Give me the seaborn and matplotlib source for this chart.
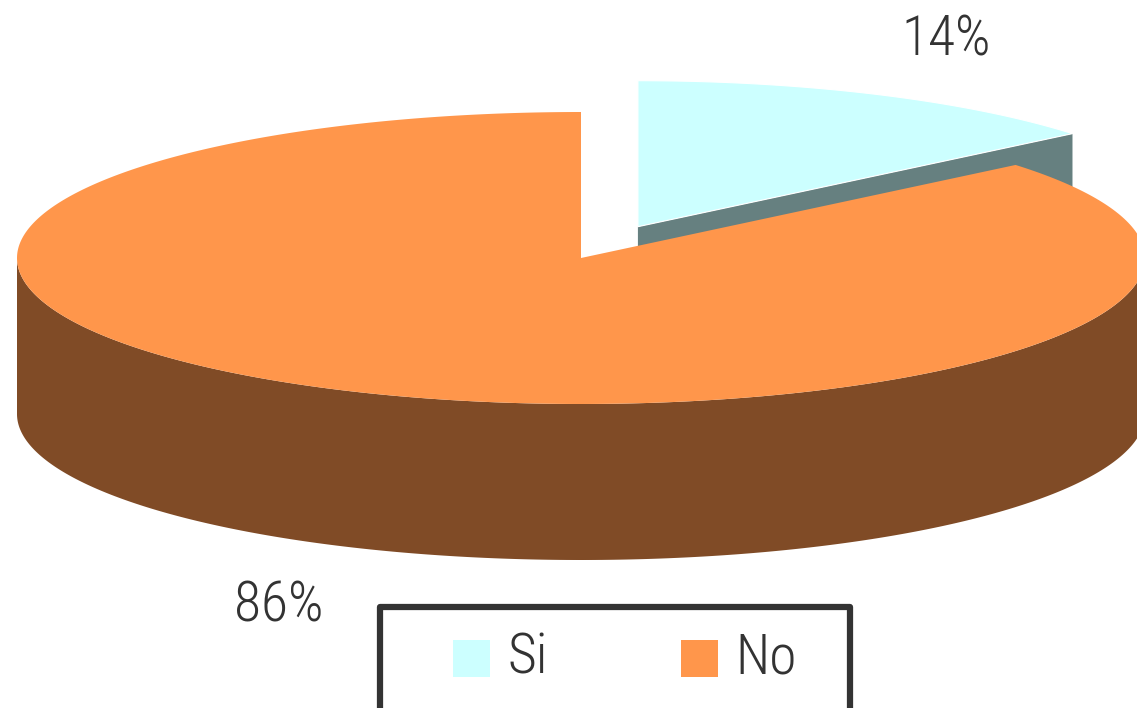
import numpy as np
import matplotlib
matplotlib.use("Agg")
import matplotlib.pyplot as plt
from matplotlib.patches import Polygon, Rectangle
import seaborn as sns

# Data
labels = ["Si", "No"]
shares = [14, 86]
pct_labels = ["14%", "86%"]

sns.set_theme(style="white")
plt.rcParams["font.family"] = ["Roboto Condensed", "Liberation Sans Narrow", "Roboto", "DejaVu Sans"]

top_colors = sns.color_palette(["#CCFFFF", "#FF964B"])
side_colors = [tuple(0.5 * c for c in col) for col in top_colors]
text_color = "#333333"

W, H = 1137, 708
fig = plt.figure(figsize=(W / 100, H / 100), dpi=100)
ax = fig.add_axes([0, 0, 1, 1])
ax.set_xlim(0, W)
ax.set_ylim(H, 0)
ax.axis("off")

# Pie geometry (ellipse in screen pixels)
cx, cy = 581, 258
a, b = 564, 146
depth = 156
explode = [0.237, 0.0]


def rim(t_deg, ox, oy, dz=0.0):
    t = np.radians(np.atleast_1d(t_deg))
    return np.column_stack([ox + a * np.cos(t), oy - b * np.sin(t) + dz])


fracs = np.array(shares, dtype=float) / sum(shares)
start = 90.0
slices = []
for i, f in enumerate(fracs):
    t1 = start
    t0 = start - 360.0 * f
    mid = np.radians(0.5 * (t0 + t1))
    ox = cx + explode[i] * a * np.cos(mid)
    oy = cy - explode[i] * b * np.sin(mid)
    slices.append((t0, t1, ox, oy))
    start = t0

for i, (t0, t1, ox, oy) in enumerate(slices):
    top_c, side_c = top_colors[i], side_colors[i]
    has_cut = False
    # radial cut faces that face the viewer
    for t, vis in ((t0, np.cos(np.radians(t0)) > 1e-6), (t1, np.cos(np.radians(t1)) < -1e-6)):
        if vis:
            has_cut = True
            p = rim(t, ox, oy)[0]
            poly = [(ox, oy), tuple(p), (p[0], p[1] + depth), (ox, oy + depth)]
            ax.add_patch(Polygon(poly, closed=True, facecolor=side_c, edgecolor="none"))
    # outer wall (front half of the cylinder)
    for lo, hi in ((-180.0, 0.0), (180.0, 360.0), (-540.0, -360.0)):
        s, e = max(t0, lo), min(t1, hi)
        if e > s:
            ts = np.linspace(s, e, 300)
            upper = rim(ts, ox, oy)
            lower = rim(ts[::-1], ox, oy, depth)
            ax.add_patch(Polygon(np.vstack([upper, lower]), closed=True,
                                 facecolor=side_c, edgecolor="none"))
    # top face
    ts = np.linspace(t0, t1, 400)
    face = np.vstack([[ox, oy], rim(ts, ox, oy)])
    ax.add_patch(Polygon(face, closed=True, facecolor=top_c,
                         edgecolor="white" if has_cut else "none", linewidth=0.8))

# Percentage labels
label_pos = [(946, 56), (279, 622)]
for txt, (x, y) in zip(pct_labels, label_pos):
    ax.text(x, y, txt, ha="center", va="baseline", fontsize=40,
            fontweight="light", color=text_color)

# Legend box
ax.add_patch(Rectangle((380, 607), 470, 200, facecolor="white",
                       edgecolor=text_color, linewidth=4.5, joinstyle="round"))
legend_x = [453, 681]
for i, lab in enumerate(labels):
    ax.add_patch(Rectangle((legend_x[i], 640), 37, 37, facecolor=top_colors[i], edgecolor="none"))
    ax.text(legend_x[i] + 54, 673, lab, ha="left", va="baseline", fontsize=40,
            fontweight="light", color=text_color)

fig.savefig("out.png", dpi=100, facecolor="white")
